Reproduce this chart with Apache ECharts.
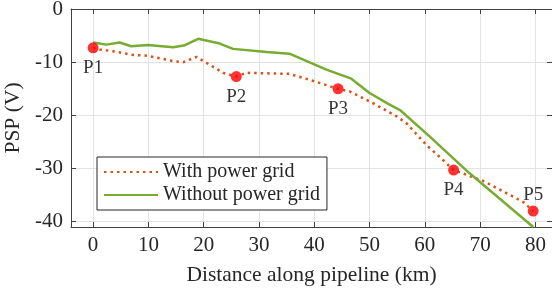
<!DOCTYPE html>
<html>
<head>
<meta charset="utf-8">
<script src="https://cdn.jsdelivr.net/npm/echarts@6/dist/echarts.min.js"></script>
<style>
  html, body { margin: 0; padding: 0; background: #fff; }
  #chart { width: 552px; height: 295px; }
</style>
</head>
<body>
<div id="chart"></div>
<script>
// with power grid (dotted)
const distWith = [0, 1.2, 3.9, 6.9, 9.9, 14.5, 16.3, 18.7, 21.1, 23.5, 25.9, 27.7, 35.5, 39.1, 44.3, 46.4, 50.6, 54.9, 56.7, 60.3, 63.6, 65.2, 70.5, 77.8, 79.6]
const pspWith = [-7.3, -7.6, -8.0, -8.6, -8.8, -9.8, -10.0, -9.0, -10.5, -12.0, -12.7, -12.0, -12.2, -13.3, -15.0, -15.5, -17.7, -20.2, -21.5, -25.6, -28.7, -30.3, -32.3, -36.3, -38.0]
// without power grid (solid)
const distWithout = [0, 2.4, 4.8, 6.9, 9.9, 14.5, 16.6, 19, 22.9, 25.3, 31.4, 35.5, 42.2, 46.7, 50.0, 53.3, 55.5, 60.9, 68.1, 79.6]
const pspWithout = [-6.3, -6.7, -6.3, -7.0, -6.75, -7.2, -6.8, -5.6, -6.5, -7.5, -8.1, -8.4, -11.4, -13.1, -15.8, -17.8, -19.0, -24.0, -30.9, -41]
// measurement points
const pointNames = ['P1', 'P2', 'P3', 'P4', 'P5']
const pointDist = [0, 25.9, 44.3, 65.2, 79.6]
const pointPsp = [-7.3, -12.7, -15.0, -30.3, -38.0]

const xTicks = [0, 10, 20, 30, 40, 50, 60, 70, 80]
const yTicks = [-40, -30, -20, -10, 0]

const font = "'Liberation Serif', 'Times New Roman', serif"
const ink = '#262626'

let myChart = echarts.init(document.getElementById('chart'))

const zip = (xs, ys) => xs.map((x, i) => [x, ys[i]])

const baseX = {
  type: 'value',
  min: -4,
  max: 83,
  axisLine: { show: true, onZero: false, lineStyle: { color: '#404040', width: 1 } },
  axisTick: { show: true, inside: true, length: 5, customValues: xTicks, lineStyle: { color: '#404040' } },
}
const baseY = {
  type: 'value',
  min: -41,
  max: 0,
  axisLine: { show: true, onZero: false, lineStyle: { color: '#404040', width: 1 } },
  axisTick: { show: true, inside: true, length: 5, customValues: yTicks, lineStyle: { color: '#404040' } },
}

myChart.setOption({
  animation: false,
  textStyle: { fontFamily: font },
  grid: { left: 71, right: 0, top: 9, bottom: 68, containLabel: false, outerBoundsMode: 'none' },
  legend: {
    left: 97,
    top: 157,
    orient: 'vertical',
    backgroundColor: '#fff',
    borderColor: ink,
    borderWidth: 1,
    borderRadius: 0,
    padding: [4, 7, 4, 6],
    itemGap: 1,
    itemWidth: 54,
    itemHeight: 14,
    itemStyle: { opacity: 0 },
    textStyle: { fontFamily: font, fontSize: 20, lineHeight: 22, color: ink },
    data: ['With power grid', 'Without power grid'],
  },
  xAxis: [
    Object.assign({}, baseX, {
      position: 'bottom',
      name: 'Distance along pipeline (km)',
      nameLocation: 'middle',
      nameGap: 37,
      nameTextStyle: { fontFamily: font, fontSize: 21.5, color: ink },
      axisLabel: { customValues: xTicks, fontFamily: font, fontSize: 21, color: ink, margin: 8 },
      splitLine: { show: true, lineStyle: { color: '#e3e3e3', width: 1 } },
    }),
    Object.assign({}, baseX, {
      position: 'top',
      axisLabel: { show: false },
      splitLine: { show: false },
    }),
  ],
  yAxis: [
    Object.assign({}, baseY, {
      position: 'left',
      name: 'PSP (V)',
      nameLocation: 'middle',
      nameGap: 37,
      nameTextStyle: { fontFamily: font, fontSize: 21.5, color: ink },
      axisLabel: { customValues: yTicks, fontFamily: font, fontSize: 21, color: ink, margin: 8 },
      splitLine: { show: true, lineStyle: { color: '#e3e3e3', width: 1 } },
    }),
    Object.assign({}, baseY, {
      position: 'right',
      axisLabel: { show: false },
      splitLine: { show: false },
    }),
  ],
  series: [
    {
      name: 'With power grid',
      type: 'line',
      symbol: 'none',
      data: zip(distWith, pspWith),
      lineStyle: { color: '#D95319', width: 2.5, type: [2.5, 4] },
      itemStyle: { color: '#D95319' },
      z: 2,
    },
    {
      name: 'Without power grid',
      type: 'line',
      symbol: 'none',
      data: zip(distWithout, pspWithout),
      lineStyle: { color: '#77AC30', width: 2.5 },
      itemStyle: { color: '#77AC30' },
      z: 3,
    },
    {
      name: 'points',
      type: 'scatter',
      symbol: 'circle',
      symbolSize: 11,
      itemStyle: { color: '#FF0000' },
      z: 4,
      data: pointNames.map((n, i) => ({
        value: [pointDist[i], pointPsp[i]],
        label: {
          show: true,
          formatter: n,
          position: i === 4 ? 'top' : 'bottom',
          distance: i === 4 ? 1 : 5,
          fontFamily: font,
          fontSize: 19,
          color: '#000',
        },
      })),
    },
  ],
})
</script>
</body>
</html>
